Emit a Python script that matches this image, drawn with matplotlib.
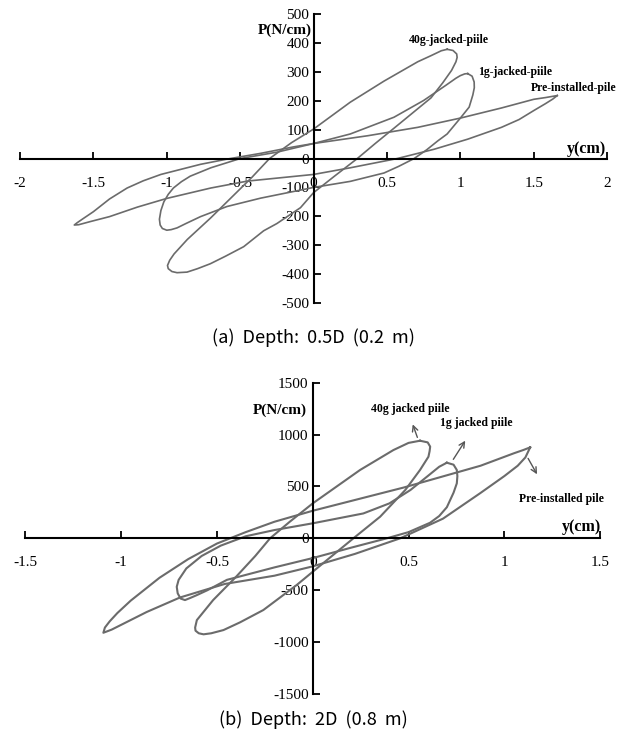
import numpy as np
import matplotlib
matplotlib.use("Agg")
import matplotlib.pyplot as plt

# ---- panel (a): depth 0.5D ----
pre_a_x = [1.66, 1.58, 1.50, 1.28, 1.00, 0.71, 0.37, 0.0, -0.14, -0.36, -0.59, -0.77, -1.04, -1.16, -1.27,
           -1.39, -1.50, -1.57, -1.61, -1.63, -1.60, -1.52, -1.39, -1.20, -1.00, -0.70, -0.45, 0.0,
           0.25, 0.57, 0.82, 1.05, 1.28, 1.40, 1.50, 1.58, 1.63, 1.66]
pre_a_y = [218, 211, 205, 175, 140, 108, 79, 52, 40, 18, -2, -20, -55, -77, -102,
           -140, -184, -208, -222, -230, -229, -218, -201, -168, -138, -102, -78, -55,
           -32, 0, 32, 67, 108, 135, 166, 190, 206, 218]

g1_a_x = [1.05, 1.08, 1.094, 1.095, 1.085, 1.06, 1.0, 0.91, 0.846, 0.77, 0.685, 0.58, 0.48, 0.25, 0.0,
          -0.36, -0.59, -0.77, -0.87, -0.93, -0.97, -1.0, -1.03, -1.045, -1.05, -1.04, -1.02, -0.99,
          -0.955, -0.90, -0.84, -0.70, -0.50, -0.25, 0.0, 0.25, 0.548, 0.75, 0.90, 0.97, 1.0, 1.03, 1.05]
g1_a_y = [294, 285, 265, 245, 220, 178, 140, 85, 61, 30, 0, -27, -50, -79, -100,
          -137, -166, -201, -225, -240, -246, -248, -242, -230, -210, -180, -150, -124,
          -102, -80, -61, -32, 0, 22, 52, 85, 143, 201, 253, 278, 287, 293, 294]

g40_a_x = [0.91, 0.95, 0.975, 0.978, 0.97, 0.94, 0.88, 0.80, 0.68, 0.548, 0.42, 0.298, 0.15, 0.0,
           -0.089, -0.25, -0.34, -0.476, -0.60, -0.703, -0.79, -0.862, -0.93, -0.965, -0.99, -0.995,
           -0.98, -0.95, -0.86, -0.70, -0.55, -0.42, -0.30, -0.15, 0.0, 0.25, 0.48, 0.71, 0.80, 0.87, 0.91]
g40_a_y = [378, 374, 362, 350, 335, 305, 262, 210, 160, 105, 52, 0, -58, -118,
           -170, -225, -250, -305, -338, -364, -381, -393, -395, -391, -381, -370,
           -352, -330, -280, -205, -130, -65, 0, 55, 102, 195, 268, 335, 356, 373, 378]

# ---- panel (b): depth 2D ----
pre_b_x = [1.135, 1.10, 1.05, 0.876, 0.475, 0.0, -0.20, -0.35, -0.50, -0.65, -0.80, -0.95, -1.02, -1.06,
           -1.085, -1.093, -1.05, -0.867, -0.693, -0.46, -0.2, 0.0, 0.22, 0.456, 0.68, 0.873, 1.0,
           1.07, 1.11, 1.135]
pre_b_y = [877, 852, 820, 700, 490, 266, 160, 60, -50, -200, -380, -600, -720, -800,
           -860, -910, -880, -710, -570, -440, -360, -270, -150, 0, 190, 434, 600,
           700, 780, 877]

g1_b_x = [0.70, 0.735, 0.752, 0.755, 0.752, 0.735, 0.70, 0.66, 0.612, 0.50, 0.386, 0.2, 0.0, -0.2,
          -0.448, -0.55, -0.605, -0.64, -0.667, -0.69, -0.705, -0.71, -0.70, -0.66, -0.58, -0.48,
          -0.35, -0.2, 0.0, 0.264, 0.40, 0.51, 0.60, 0.66, 0.70]
g1_b_y = [729, 710, 659, 600, 530, 440, 300, 215, 150, 60, 0, -90, -190, -280,
          -400, -500, -547, -575, -595, -580, -530, -467, -400, -290, -170, -70,
          20, 80, 145, 240, 337, 466, 600, 690, 729]

g40_b_x = [0.56, 0.60, 0.613, 0.61, 0.604, 0.56, 0.483, 0.352, 0.212, 0.1, 0.0, -0.084, -0.258, -0.38,
           -0.466, -0.53, -0.57, -0.595, -0.612, -0.614, -0.605, -0.52, -0.40, -0.30, -0.223, -0.12,
           0.0, 0.247, 0.421, 0.50, 0.56]
g40_b_y = [941, 925, 884, 840, 787, 659, 466, 209, 0, -170, -322, -450, -691, -810,
           -884, -915, -925, -915, -890, -860, -788, -595, -370, -170, 0, 160,
           337, 659, 851, 920, 941]

xticks_a = [-2, -1.5, -1, -0.5, 0, 0.5, 1, 1.5, 2]
yticks_a = [-500, -400, -300, -200, -100, 0, 100, 200, 300, 400, 500]
xticks_b = [-1.5, -1, -0.5, 0, 0.5, 1, 1.5]
yticks_b = [-1500, -1000, -500, 0, 500, 1000, 1500]

line_col = "#6b6b6b"
serif = "Liberation Serif"
cap_font = ["Noto Sans CJK KR", "DejaVu Sans"]


def fmt(v):
    return ("%g" % v)


def setup(ax, xlim, ylim, xticks, yticks):
    ax.set_xlim(*xlim)
    ax.set_ylim(*ylim)
    for s in ["top", "right"]:
        ax.spines[s].set_visible(False)
    for s in ["left", "bottom"]:
        ax.spines[s].set_position("zero")
        ax.spines[s].set_linewidth(1.5)
        ax.spines[s].set_color("black")
    ax.set_xticks(xticks)
    ax.set_yticks(yticks)
    ax.set_xticklabels([fmt(v) for v in xticks], fontfamily=serif, fontsize=11)
    ax.set_yticklabels([fmt(v) for v in yticks], fontfamily=serif, fontsize=11)
    ax.tick_params(axis="x", direction="in", length=5, width=1.3, pad=13)
    ax.tick_params(axis="y", direction="in", length=5, width=1.3, pad=3)
    ax.patch.set_visible(False)


fig = plt.figure(figsize=(6.24, 7.40), dpi=100)

# (a)
ax1 = fig.add_axes([0.032, 0.5905, 0.941, 0.3905])
setup(ax1, (-2, 2), (-500, 500), xticks_a, yticks_a)
for xs, ys in [(pre_a_x, pre_a_y), (g1_a_x, g1_a_y), (g40_a_x, g40_a_y)]:
    ax1.plot(xs, ys, color=line_col, lw=1.2, solid_joinstyle="round")
ax1.text(-0.01, 445, "P(N/cm)", ha="right", va="center", fontfamily=serif, fontweight="bold", fontsize=11)
ax1.text(1.857, 33, "y(cm)", ha="center", va="center", fontfamily=serif, fontweight="bold", fontsize=11.5)
ax1.text(0.92, 411, "40g-jacked-piile", ha="center", va="center", fontfamily=serif, fontweight="bold", fontsize=8.5)
ax1.text(1.372, 299, "1g-jacked-piile", ha="center", va="center", fontfamily=serif, fontweight="bold", fontsize=8.5)
ax1.text(1.775, 243, "Pre-installed-pile", ha="center", va="center", fontfamily=serif, fontweight="bold", fontsize=8.5)

# (b)
ax2 = fig.add_axes([0.0407, 0.0622, 0.921, 0.4206])
setup(ax2, (-1.5, 1.5), (-1500, 1500), xticks_b, yticks_b)
for xs, ys in [(pre_b_x, pre_b_y), (g1_b_x, g1_b_y), (g40_b_x, g40_b_y)]:
    ax2.plot(xs, ys, color=line_col, lw=1.5, solid_joinstyle="round")
ax2.text(-0.03, 1237, "P(N/cm)", ha="right", va="center", fontfamily=serif, fontweight="bold", fontsize=11)
ax2.text(1.404, 109, "y(cm)", ha="center", va="center", fontfamily=serif, fontweight="bold", fontsize=11.5)
ax2.text(0.509, 1250, "40g jacked piile", ha="center", va="center", fontfamily=serif, fontweight="bold", fontsize=8.5)
ax2.text(0.853, 1115, "1g jacked piile", ha="center", va="center", fontfamily=serif, fontweight="bold", fontsize=8.5)
ax2.text(1.298, 379, "Pre-installed pile", ha="center", va="center", fontfamily=serif, fontweight="bold", fontsize=8.5)
arrow_kw = dict(arrowstyle="->", color="#555555", lw=1.0)
ax2.annotate("", xy=(0.517, 1124), xytext=(0.551, 948), arrowprops=arrow_kw)
ax2.annotate("", xy=(0.804, 964), xytext=(0.726, 739), arrowprops=arrow_kw)
ax2.annotate("", xy=(1.178, 594), xytext=(1.117, 794), arrowprops=arrow_kw)

fig.text(0.502, 1 - 338 / 740, "(a)  Depth:  0.5D  (0.2  m)", ha="center", va="center",
         fontfamily=cap_font, fontsize=13)
fig.text(0.502, 1 - 720 / 740, "(b)  Depth:  2D  (0.8  m)", ha="center", va="center",
         fontfamily=cap_font, fontsize=13)

fig.savefig("out.png", dpi=100)
